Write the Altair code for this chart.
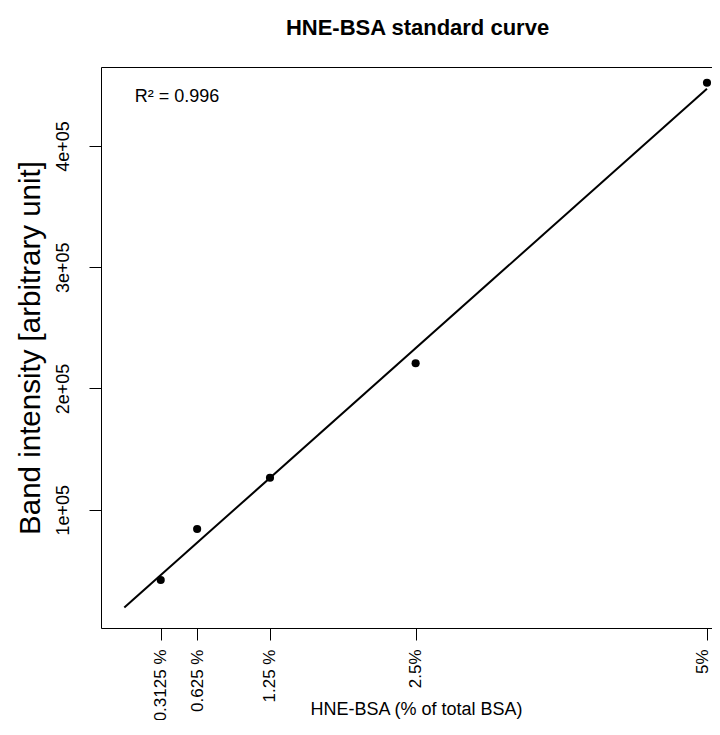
import altair as alt
import pandas as pd

# ---- data ----
x_values = [0.3125, 0.625, 1.25, 2.5, 5]
y_values = [42000, 84100, 126400, 220800, 452200]
x_tick_labels = ["0.3125 %", "0.625 %", "1.25 %", "2.5%", "5%"]
y_ticks = [100000, 200000, 300000, 400000]
y_tick_labels = ["1e+05", "2e+05", "3e+05", "4e+05"]
fit_extent = [0, 5]
annot_text = ["R\u00b2 = 0.996"]
annot_x = [0.09]
annot_y = [436500]

FONT = "Liberation Sans"

df = pd.DataFrame({"x": x_values, "y": y_values})
annot = pd.DataFrame({"x": annot_x, "y": annot_y, "t": annot_text})


def label_expr(vals, labels):
    expr = "''"
    for v, l in reversed(list(zip(vals, labels))):
        expr = f"datum.value == {v} ? '{l}' : ({expr})"
    return expr


x_scale = alt.Scale(domain=[-0.2, 5.043], nice=False, zero=False)
y_scale = alt.Scale(domain=[2400, 465200], nice=False, zero=False)

x_axis = alt.Axis(
    values=x_values, labelExpr=label_expr(x_values, x_tick_labels),
    labelAngle=270, labelAlign="right", labelBaseline="middle",
    labelOffset={"expr": f"datum.value == {x_values[-1]} ? -4 : 0"},
    labelFontSize=17, labelFont=FONT, labelColor="black", labelPadding=9,
    labelFlush=False, labelOverlap=False,
    tickSize=12, tickColor="black", domainColor="black", grid=False,
    title="HNE-BSA (% of total BSA)", titleFontSize=18, titleFont=FONT,
    titleFontWeight="normal", titleColor="black", titleX=315, titleY=86,
    titleAlign="center", titleBaseline="alphabetic",
)
y_axis = alt.Axis(
    values=y_ticks, labelExpr=label_expr(y_ticks, y_tick_labels),
    labelAngle=270, labelAlign="center", labelBaseline="alphabetic",
    labelFontSize=18, labelFont=FONT, labelColor="black", labelPadding=21,
    labelFlush=False, labelOverlap=False,
    tickSize=12, tickColor="black", domainColor="black", grid=False,
    title="Band intensity [arbitrary unit]", titleFontSize=29.5, titleFont=FONT,
    titleFontWeight="normal", titleColor="black", titleAngle=270,
    titleX=-62, titleY=280.5, titleAlign="center", titleBaseline="alphabetic",
)
top_axis = alt.Axis(orient="top", labels=False, ticks=False, title=None,
                    domainColor="black", grid=False)

points = alt.Chart(df).mark_circle(size=66, color="black", opacity=1).encode(
    x=alt.X("x:Q", scale=x_scale, axis=x_axis),
    y=alt.Y("y:Q", scale=y_scale, axis=y_axis),
)

fit = alt.Chart(df).transform_regression(
    "x", "y", extent=fit_extent
).mark_line(color="black", strokeWidth=2).encode(
    x=alt.X("x:Q", scale=x_scale, axis=top_axis),
    y=alt.Y("y:Q", scale=y_scale, axis=y_axis),
)

text = alt.Chart(annot).mark_text(
    align="left", baseline="alphabetic", fontSize=18, font=FONT, color="black"
).encode(
    x=alt.X("x:Q", scale=x_scale, axis=None),
    y=alt.Y("y:Q", scale=y_scale, axis=y_axis),
    text="t:N",
)

chart = alt.layer(fit, points, text).resolve_axis(x="independent").properties(
    width=611, height=561,
    title=alt.TitleParams("HNE-BSA standard curve", fontSize=22, font=FONT,
                          fontWeight="bold", color="black", anchor="middle",
                          dx=11, offset=27),
    autosize=alt.AutoSizeParams(type="none"),
    padding={"left": 93, "top": 59, "right": 0, "bottom": 92},
).configure_view(stroke=None).configure(background="white")

chart.save("out.html", embed_options={"renderer": "svg", "actions": False})
